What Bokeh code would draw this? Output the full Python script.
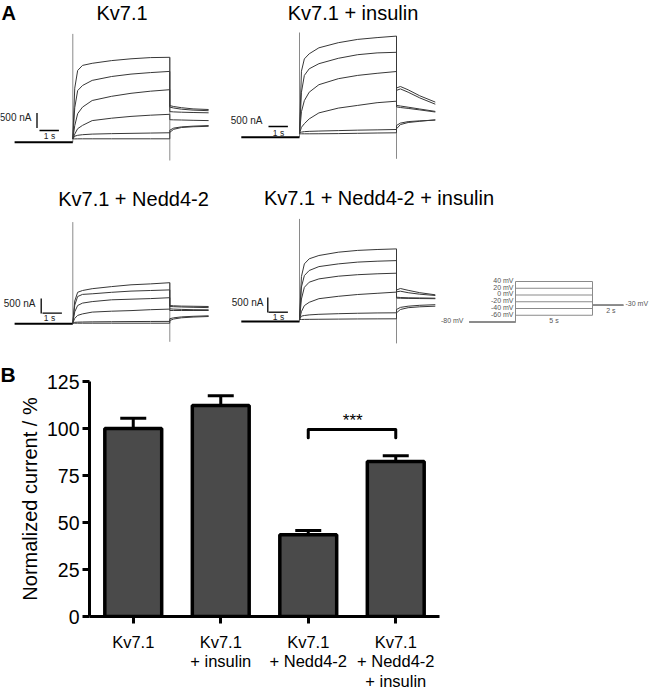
from bokeh.plotting import figure
from bokeh.layouts import column, row
from bokeh.models import Range1d, FactorRange, FixedTicker, Whisker, TeeHead, ColumnDataSource
from bokeh.core.properties import value
from bokeh.embed import file_html
from bokeh.resources import INLINE

# ---------------- DATA ----------------
panel_titles = ["Kv7.1", "Kv7.1 + insulin", "Kv7.1 + Nedd4-2", "Kv7.1 + Nedd4-2 + insulin"]
levels_mV = [40, 20, 0, -20, -40, -60]
level_labels = ["40 mV", "20 mV", "0 mV", "-20 mV", "-40 mV", "-60 mV"]
holding_mV = -80
tail_mV = -30
holding_label = "-80 mV"
tail_label = "-30 mV"
hold_s, step_s, tail_s = 3.0, 5.0, 2.0
step_label, tail_s_label = "5 s", "2 s"

t_hold = [-3.0, 0.0]
t_pulse = [0.0, 0.1, 0.25, 0.5, 1.0, 2.0, 3.0, 4.0, 5.0]
t_tail = [5.0, 5.2, 5.6, 6.2, 7.0]

kv71_pulse = [
    [110, 1800, 2390, 2560, 2630, 2720, 2780, 2820, 2830],
    [110, 1150, 1720, 1890, 2060, 2190, 2270, 2320, 2360],
    [110, 550, 950, 1170, 1390, 1530, 1630, 1700, 1750],
    [110, 270, 450, 560, 720, 800, 860, 900, 930],
    [110, 200, 230, 250, 270, 285, 295, 305, 315],
    [110, 110, 112, 113, 113, 113, 113, 113, 113],
]
kv71_tail = [
    [1220, 1190, 1150, 1110, 1090],
    [1170, 1140, 1100, 1070, 1050],
    [1020, 1010, 1000, 990, 980],
    [750, 745, 740, 730, 720],
    [400, 470, 510, 535, 555],
    [330, 430, 490, 515, 530],
]
kv71_ins_pulse = [
    [130, 2200, 2610, 2780, 2980, 3150, 3260, 3320, 3370],
    [130, 1500, 2060, 2280, 2450, 2630, 2750, 2810, 2830],
    [130, 850, 1220, 1500, 1750, 1950, 2060, 2130, 2190],
    [130, 330, 450, 610, 810, 970, 1060, 1150, 1200],
    [130, 170, 185, 195, 205, 220, 235, 245, 257],
    [110, 113, 113, 113, 115, 120, 130, 140, 147],
]
kv71_ins_tail = [
    [1640, 1690, 1580, 1380, 1170],
    [1560, 1610, 1500, 1310, 1100],
    [1060, 1040, 1000, 940, 860],
    [1010, 990, 960, 910, 840],
    [390, 470, 520, 545, 570],
    [280, 420, 490, 530, 580],
]
nedd_pulse = [
    [30, 760, 1050, 1110, 1170, 1240, 1300, 1330, 1370],
    [30, 620, 910, 980, 1000, 1050, 1090, 1110, 1130],
    [30, 400, 610, 690, 740, 800, 820, 840, 870],
    [30, 180, 280, 330, 390, 420, 440, 470, 490],
    [20, 50, 55, 60, 65, 70, 75, 78, 80],
    [20, 20, 20, 20, 20, 20, 20, 20, 20],
]
nedd_tail = [
    [610, 600, 590, 585, 577],
    [577, 570, 560, 550, 540],
    [500, 490, 480, 470, 467],
    [443, 443, 443, 443, 443],
    [170, 200, 230, 250, 267],
    [110, 160, 200, 225, 243],
]
nedd_ins_pulse = [
    [70, 1500, 1920, 2090, 2200, 2310, 2370, 2400, 2420],
    [70, 1150, 1530, 1700, 1830, 1920, 1980, 2010, 2030],
    [70, 750, 1140, 1310, 1420, 1510, 1560, 1590, 1610],
    [70, 330, 530, 640, 760, 840, 900, 940, 980],
    [70, 180, 200, 220, 240, 260, 275, 285, 290],
    [67, 67, 70, 72, 75, 80, 85, 88, 90],
]
nedd_ins_tail = [
    [1050, 1100, 1040, 960, 890],
    [990, 1010, 960, 910, 867],
    [810, 800, 790, 785, 777],
    [780, 775, 770, 765, 760],
    [400, 470, 510, 540, 560],
    [290, 400, 460, 490, 510],
]
cap_on_nA = [3610, 3490, 3390, 3420]
cap_off_nA = [-610, -720, -600, -730]
scale_nA = 500
scale_s = 1.0
scale_nA_label = "500 nA"
scale_s_label = "1 s"

categories = ["Kv7.1", "Kv7.1\n+ insulin", "Kv7.1\n+ Nedd4-2", "Kv7.1\n+ Nedd4-2\n+ insulin"]
norm_current = [100.0, 112.2, 43.5, 82.4]
sem = [5.5, 5.2, 2.2, 3.1]
y_ticks = [0, 25, 50, 75, 100, 125]
y_label = "Normalized current / %"
sig_pair = [2, 3]
sig_text = "***"
sig_level = 99.5
sig_drop = 4.4

# ---------------- LAYOUT (pixel geometry of the page) ----------------
FONT = "Liberation Sans"
PPS = 19.4          # px per second (current traces)
NPP = 500.0 / 15.0  # nA per px
LIFT = 0.15         # em: "middle" anchor sits slightly below the cap centre


def blank_fig(x0, x1, y0, y1, xr, yr, **kw):
    opts = dict(min_border=0)
    opts.update(kw)
    p = figure(width=x1 - x0, height=y1 - y0, x_range=xr, y_range=yr, title=None,
               output_backend="svg", toolbar_location=None,
               x_axis_location=None, y_axis_location=None, **opts)
    p.grid.visible = False
    p.outline_line_color = None
    return p


def add_text(p, x, y, text, size, align="center", baseline="middle", color="black",
             bold=False, **kw):
    p.text(x=x if isinstance(x, list) else [x], y=y if isinstance(y, list) else [y],
           text=text if isinstance(text, list) else [text],
           text_font=value(FONT), text_font_size=f"{size}px", y_offset=-LIFT * size,
           text_align=align, text_baseline=baseline, text_color=color,
           text_font_style="bold" if bold else "normal", **kw)


panel_geo = [
    dict(box=(0, 226, 0, 168), t0=72.3, base=141.7, title=(121.5, 15.0),
         vbar=(36.5, 127.5), hbar=(39, 130), nA_text=(31, 118), s_text=(49, 136.5)),
    dict(box=(226, 652, 0, 168), t0=299.0, base=136.7, title=(352.5, 15.0),
         vbar=None, hbar=(268, 126), nA_text=(262, 121.7), s_text=(278, 133.5)),
    dict(box=(0, 226, 168, 345), t0=72.3, base=323.3, title=(133, 201.7),
         vbar=(40.7, 313), hbar=(42, 312.7), nA_text=(35, 304), s_text=(49, 319)),
    dict(box=(226, 652, 168, 345), t0=299.0, base=321.0, title=(378.5, 200.8),
         vbar=(267.3, 312), hbar=(268, 311.7), nA_text=(263, 303.5), s_text=(278, 318)),
]
panel_data = [(kv71_pulse, kv71_tail), (kv71_ins_pulse, kv71_ins_tail),
              (nedd_pulse, nedd_tail), (nedd_ins_pulse, nedd_ins_tail)]

figs = []
for i, g in enumerate(panel_geo):
    x0, x1, y0, y1 = g["box"]
    t0, base = g["t0"], g["base"]
    fx = lambda px, t0=t0: (px - t0) / PPS
    fy = lambda py, base=base: (base - py) * NPP
    p = blank_fig(x0, x1, y0, y1, Range1d(fx(x0), fx(x1)), Range1d(fy(y1), fy(y0)))
    pulse, tail = panel_data[i]
    top_end = max(tr[-1] for tr in pulse)
    p.segment(x0=[0, t_pulse[-1]], y0=[0, top_end], x1=[0, t_pulse[-1]],
              y1=[cap_on_nA[i], cap_off_nA[i]], line_color="#8a8a8a", line_width=1)
    p.line(t_hold, [0, 0], line_color="black", line_width=2)
    for pv, tv in zip(pulse, tail):
        p.line(t_pulse + t_tail, pv + tv, line_color="#383838", line_width=1)
    if g["vbar"] is not None:
        vx, vy = fx(g["vbar"][0]), fy(g["vbar"][1])
        p.segment(x0=[vx], y0=[vy], x1=[vx], y1=[vy + scale_nA], line_color="black", line_width=1.3)
    hx, hy = fx(g["hbar"][0]), fy(g["hbar"][1])
    p.segment(x0=[hx], y0=[hy], x1=[hx + scale_s], y1=[hy], line_color="black", line_width=1.3)
    add_text(p, fx(g["nA_text"][0]), fy(g["nA_text"][1]), scale_nA_label, 10, align="right", color="#222222")
    add_text(p, fx(g["s_text"][0]), fy(g["s_text"][1]), scale_s_label, 8.5, color="#222222")
    add_text(p, fx(g["title"][0]), fy(g["title"][1]), panel_titles[i], 20)
    if i == 0:
        add_text(p, fx(8.3), fy(15.0), "A", 20, bold=True)
    figs.append(p)

# voltage protocol drawn inside the 4th panel with its own ranges
PPS_P = 15.4
PX_PER_MV = 0.3375
T0P, BASEP = 515.0, 321.5
gx = lambda px: (px - T0P) / PPS_P
gy = lambda py: holding_mV + (BASEP - py) / PX_PER_MV
fp = figs[3]
fp.extra_x_ranges = {"pt": Range1d(gx(226), gx(652))}
fp.extra_y_ranges = {"pv": Range1d(gy(345), gy(168))}
rk = dict(x_range_name="pt", y_range_name="pv")
for V in levels_mV:
    fp.line([-hold_s, 0, 0, step_s, step_s, step_s + tail_s],
            [holding_mV, holding_mV, V, V, tail_mV, tail_mV], line_color="#8a8a8a", line_width=1, **rk)
PCOL = "#555555"
for V, lab in zip(levels_mV, level_labels):
    add_text(fp, gx(513), V, lab, 7, align="right", color=PCOL, **rk)
add_text(fp, gx(463), holding_mV, holding_label, 7, align="right", color=PCOL, **rk)
add_text(fp, step_s / 2, gy(321.5), step_label, 7, color=PCOL, **rk)
add_text(fp, gx(610.3), gy(311), tail_s_label, 7, color=PCOL, **rk)
add_text(fp, gx(625), gy(303.7), tail_label, 7, align="left", color=PCOL, **rk)

# ---------------- bar chart (B) ----------------
BX0 = 15
fB = blank_fig(0, BX0, 345, 689, Range1d(0, BX0), Range1d(689, 345))
add_text(fB, 7.5, 377, "B", 21, bold=True)

FR_L, FR_R, FR_T, FR_B = 83, 439, 381, 616   # plot frame edges
AX_B = 629                                   # bottom of the axis area
pb = figure(width=652 - BX0, height=AX_B - 345, x_range=FactorRange(factors=categories),
            y_range=Range1d(0, 125), title=None, output_backend="svg", toolbar_location=None,
            min_border_left=FR_L - BX0, min_border_right=652 - FR_R,
            min_border_top=FR_T - 345, min_border_bottom=AX_B - FR_B)
pb.grid.visible = False
pb.outline_line_color = None
pb.yaxis.ticker = FixedTicker(ticks=y_ticks)
for ax in (pb.xaxis[0], pb.yaxis[0]):
    ax.axis_line_width = 3
    ax.axis_line_color = "black"
    ax.major_tick_line_width = 3
    ax.major_tick_line_color = "black"
    ax.major_tick_out = 7
    ax.major_tick_in = 0
    ax.minor_tick_line_color = None
    ax.major_label_text_font = FONT
    ax.major_label_text_color = "black"
pb.yaxis.major_label_text_font_size = "19.5px"
pb.yaxis.major_label_standoff = 3
pb.yaxis.axis_label = y_label
pb.yaxis.axis_label_text_font = FONT
pb.yaxis.axis_label_text_font_size = "20px"
pb.yaxis.axis_label_text_font_style = "normal"
pb.yaxis.axis_label_text_color = "black"
pb.yaxis.axis_label_text_line_height = 1.0
pb.yaxis.axis_label_standoff = 3
# category names are written in the strip below (multi-line)
pb.xaxis.major_label_text_font_size = "1px"
pb.xaxis.major_label_text_alpha = 0
pb.xaxis.major_label_standoff = 0

pb.vbar(x=categories, top=norm_current, width=0.65, fill_color="#4a4a4a",
        line_color="black", line_width=3.5)
upper = [v + e for v, e in zip(norm_current, sem)]
src = ColumnDataSource(dict(x=categories, top=norm_current, upper=upper))
pb.add_layout(Whisker(source=src, base="x", lower="top", upper="upper", line_width=3,
                      line_color="black", lower_head=None, level="overlay",
                      upper_head=TeeHead(size=26, line_width=3, line_color="black")))
c3, c4 = categories[sig_pair[0]], categories[sig_pair[1]]
pb.line(x=[c3, c3, c4, c4], y=[sig_level - sig_drop, sig_level, sig_level, sig_level - sig_drop],
        line_width=3, line_color="black", line_join="round", line_cap="round")
pb.text(x=[c3], y=[sig_level + 5.0], text=[sig_text], x_offset=(FR_R - FR_L) / len(categories) / 2,
        text_font=value(FONT), text_font_size="17px", text_align="center",
        text_baseline="middle", text_color="black")

# strip with the category names, sharing the bar chart's factor range
strip = blank_fig(BX0, 652, AX_B, 689, pb.x_range, Range1d(689, AX_B),
                  min_border_left=FR_L - BX0, min_border_right=652 - FR_R,
                  min_border_top=0, min_border_bottom=0)
LINE1, LINE_H = 643.5, 19.5
for k in range(3):
    xs = [c for c in categories if len(c.split("\n")) > k]
    txt = [c.split("\n")[k] for c in xs]
    ys = [LINE1 + k * LINE_H] * len(xs)
    add_text(strip, xs, ys, txt, 16.5)

layout = column(row(figs[0], figs[1]), row(figs[2], figs[3]), row(fB, column(pb, strip)))
open("out.html", "w").write(file_html(layout, INLINE))
